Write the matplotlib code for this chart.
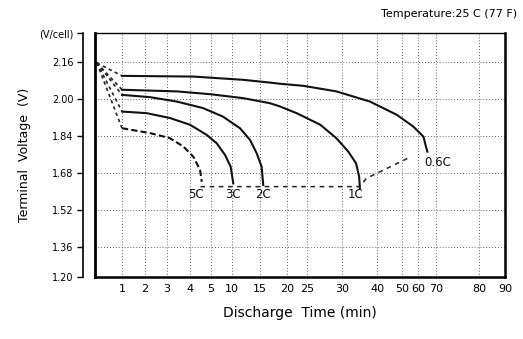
import matplotlib
matplotlib.use("Agg")
import matplotlib.pyplot as plt
import numpy as np

# ── Data ────────────────────────────────────────────────────────────────────
# uneven time axis from the datasheet: tick value -> position on the axis
x_ticks = [1, 2, 3, 4, 5, 10, 15, 20, 25, 30, 40, 50, 60, 70, 80, 90]
axis_t = [0, 1, 2, 3, 4, 5, 10, 15, 20, 25, 30, 40, 50, 60, 70, 80, 90]
axis_pos = [95, 122, 145, 167, 190, 211, 232, 260, 287, 307, 342, 377, 402, 418, 436, 479, 505]

y_ticks = [1.231, 1.36, 1.52, 1.68, 1.84, 2.00, 2.16, 2.284]
y_labels = ["1.20", "1.36", "1.52", "1.68", "1.84", "2.00", "2.16", "(V/cell)"]

t_06c = [1, 4.16, 11.96, 16.85, 18.7, 24.1, 29.2, 38, 47.9, 57.1, 63, 64.4, 65.2]
v_06c = [2.099, 2.096, 2.082, 2.070, 2.065, 2.056, 2.032, 1.988, 1.931, 1.880, 1.837, 1.794, 1.772]

t_1c = [1, 3.43, 4.95, 11.96, 16.85, 18.7, 22.4, 26.9, 29.2, 31.8, 34.0, 34.9, 35.1]
v_1c = [2.039, 2.032, 2.020, 2.003, 1.981, 1.967, 1.938, 1.888, 1.830, 1.772, 1.722, 1.664, 1.614]

t_2c = [1, 2.23, 3.43, 4.62, 7.86, 11.43, 13.21, 14.41, 15.3, 15.6]
v_2c = [2.017, 2.007, 1.988, 1.960, 1.923, 1.873, 1.823, 1.765, 1.707, 1.628]

t_3c = [1, 2.08, 3.13, 4, 4.8, 6.36, 8.33, 9.69, 10.23]
v_3c = [1.945, 1.938, 1.917, 1.888, 1.844, 1.808, 1.758, 1.707, 1.635]

t_5c = [1, 2.23, 3.13, 3.71, 4.16, 4.48, 4.56]
v_5c = [1.873, 1.852, 1.830, 1.794, 1.750, 1.693, 1.642]

# initial voltage at t=0 (dashed fan into each curve)
v_start = 2.155

# final voltage leader line
t_final = [4.5, 35.1, 37, 55]
v_final = [1.621, 1.621, 1.657, 1.748]


def fwd(t):
    return np.interp(t, axis_t, axis_pos)


def inv(p):
    return np.interp(p, axis_pos, axis_t)


fig = plt.figure(figsize=(5.23, 3.39), dpi=100)
ax = fig.add_axes([95 / 523, 1 - 277 / 339, 410 / 523, 244 / 339])
ax.set_xscale("function", functions=(fwd, inv))
ax.set_xlim(0, 90)
ax.set_ylim(1.231, 2.284)

# grid
for t in x_ticks[:-1]:
    ax.axvline(t, color="#333333", lw=0.6, ls=(0, (1, 2.5)), zorder=1)
for v in y_ticks[1:-1]:
    ax.axhline(v, color="#333333", lw=0.6, ls=(0, (1, 2.5)), zorder=1)

curves = [(t_06c, v_06c, "-"), (t_1c, v_1c, "-"), (t_2c, v_2c, "-"),
          (t_3c, v_3c, "-"), (t_5c, v_5c, (0, (3, 1.5)))]
for t, v, ls in curves:
    ax.plot(t, v, color="#111111", lw=1.5, ls=ls, zorder=3)
    ax.plot([0.07, t[0]], [v_start, v[0]], color="#222222", lw=1.2,
            ls=(0, (2, 2)), zorder=3)

ax.plot(t_final, v_final, color="#222222", lw=1.1, ls=(0, (3, 3)), zorder=3)

lab_kw = dict(fontsize=8.5, ha="center", va="center", color="#111111")
ax.text(4.3, 1.585, "5C", **lab_kw)
ax.text(10.2, 1.585, "3C", **lab_kw)
ax.text(15.6, 1.585, "2C", **lab_kw)
ax.text(34.0, 1.585, "1C", **lab_kw)
ax.text(70.5, 1.725, "0.6C", **lab_kw)

# frame / spines
ax.spines["left"].set_position(("outward", 8.6))
ax.spines["left"].set_linewidth(1.2)
ax.spines["bottom"].set_linewidth(1.8)
ax.spines["right"].set_linewidth(1.8)
ax.spines["top"].set_linewidth(1.0)
ax.axvline(0, color="black", lw=2.0, zorder=4, clip_on=False)

ax.set_xticks(x_ticks)
ax.set_xticklabels([str(t) for t in x_ticks])
ax.xaxis.set_minor_locator(matplotlib.ticker.NullLocator())
ax.tick_params(axis="x", length=0, pad=5, labelsize=8)
ax.set_yticks(y_ticks)
ax.set_yticklabels(y_labels)
ax.tick_params(axis="y", length=4, width=1, pad=3, labelsize=7)

ax.set_ylabel("Terminal  Voltage  (V)", fontsize=9, labelpad=6)
ax.set_xlabel("Discharge  Time (min)", fontsize=10, labelpad=9)
fig.text(517 / 523, 1 - 14 / 339, "Temperature:25 C (77 F)", fontsize=8,
         ha="right", va="center")

fig.savefig("out.png", dpi=100)
